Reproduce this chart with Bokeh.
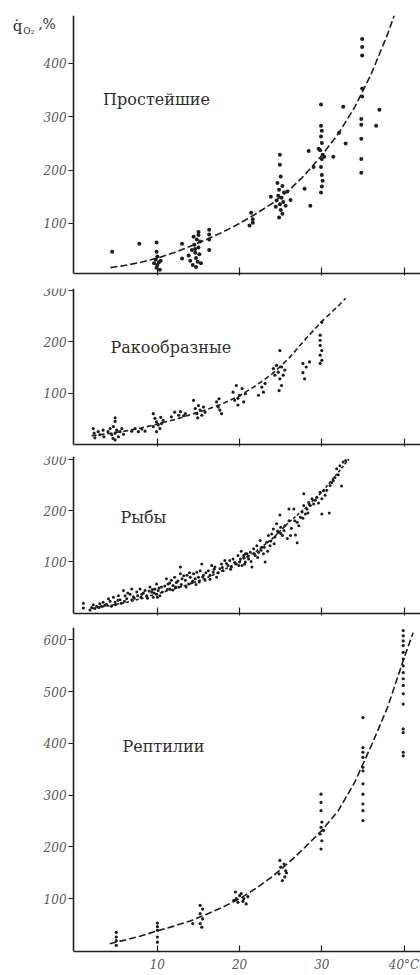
from bokeh.plotting import figure
from bokeh.layouts import column
from bokeh.models import FixedTicker, Label
from bokeh.embed import file_html
from bokeh.resources import INLINE

# ---------------- data ----------------
# Простейшие
proto_t = [4.5, 7.8, 9.9, 9.9, 10.0, 9.8, 10.2, 10.0, 9.9, 10.3, 9.6, 10.4,
           13.0, 13.0,
           13.8, 14.0, 14.2, 14.3, 14.5, 14.6, 14.7, 14.8, 14.9, 15.0, 15.0, 15.1, 15.2, 14.4, 14.7, 15.3, 15.0, 14.6,
           16.3, 16.3, 16.3, 16.3,
           21.4, 21.6, 21.6, 21.2,
           24.9, 24.9, 25.0, 24.6, 25.2, 24.8, 25.4, 24.7, 25.1, 24.5, 25.3, 24.9, 25.6, 24.4, 25.0, 25.2, 24.8, 26.2, 23.8, 25.8,
           27.9, 28.6, 28.4, 29.0,
           29.9, 29.9, 30.0, 29.9, 30.0, 29.8, 30.1, 30.0, 29.9, 30.0, 30.1, 30.0, 29.9, 30.3, 29.6,
           31.4, 32.1, 32.6, 32.9,
           34.9, 34.9, 34.9, 34.9, 34.9, 34.8, 34.8, 34.8, 34.8, 34.8,
           36.6, 37.0]
proto_v = [47, 62, 64, 47, 38, 32, 27, 22, 17, 13, 25, 30,
           62, 34,
           40, 30, 50, 22, 60, 45, 35, 70, 28, 84, 55, 42, 66, 75, 18, 25, 78, 52,
           88, 79, 70, 50,
           120, 108, 101, 96,
           229, 210, 188, 176, 170, 163, 158, 152, 148, 143, 140, 136, 133, 131, 125, 118, 111, 144, 150, 160,
           165, 133, 236, 206,
           323, 283, 274, 263, 251, 237, 229, 221, 206, 191, 180, 169, 158, 225, 240,
           225, 270, 319, 250,
           446, 431, 415, 353, 338, 296, 285, 259, 221, 195,
           283, 313]
proto_curve_t = [4.3, 6, 8, 10, 12, 14, 16, 18, 20, 22, 24, 26, 28, 30, 32, 34, 36, 38, 38.8]
proto_curve_v = [17, 21, 27, 35, 45, 57, 70, 84, 100, 118, 138, 162, 192, 228, 268, 318, 380, 455, 490]

# Ракообразные
crust_t = [2.2, 2.3, 2.4, 2.8, 3.0, 3.4, 3.5,
           4.0, 4.25, 4.45, 4.65, 4.86, 5.06, 5.26, 5.46, 5.67, 5.87, 4.86, 4.6, 4.86, 4.86,
           6.88, 7.29, 7.69, 8.1, 8.5,
           9.5, 9.7, 9.9, 10.1, 10.3, 10.5, 10.7, 9.5, 9.9, 10.4,
           11.7, 12.1, 12.6, 12.8, 13.2, 13.4,
           14.4, 14.6, 14.8, 15.0, 15.2, 15.4, 15.6, 15.8, 14.9,
           17.2, 17.4, 17.6, 17.8, 17.5,
           19.2, 19.6, 19.8, 20.0, 20.3, 20.5, 20.7, 19.4, 19.8,
           22.3, 22.7, 23.1, 22.9,
           24.9, 24.1, 24.5, 24.7, 25.1, 25.3, 24.9, 25.1, 24.8, 25.5, 24.3,
           27.7, 28.1, 28.5, 27.7, 27.9,
           30.0, 29.8, 29.8, 29.8, 30.0, 29.8, 30.0, 29.8]
crust_v = [31, 22, 13, 25, 19, 28, 15,
           25, 31, 19, 35, 22, 28, 15, 25, 31, 20, 9, 12, 52, 45,
           26, 31, 25, 30, 26,
           60, 51, 44, 38, 31, 41, 47, 35, 25, 53,
           54, 63, 57, 64, 56, 60,
           86, 70, 60, 76, 67, 57, 73, 63, 52,
           83, 73, 67, 60, 89,
           102, 115, 90, 96, 109, 83, 99, 86, 77,
           96, 112, 119, 102,
           183, 148, 154, 141, 151, 135, 128, 115, 105, 145, 135,
           158, 151, 161, 140, 128,
           238, 213, 203, 193, 183, 174, 164, 158]
crust_curve_t = [2, 4, 6, 8, 10, 12, 14, 16, 18, 20, 22, 24, 26, 28, 30, 32, 32.9]
crust_curve_v = [17, 21, 26, 32, 40, 48, 58, 68, 80, 95, 115, 138, 168, 205, 240, 270, 285]

# Рыбы
fish_t = [1.0, 1.0, 2.0, 2.2, 2.6, 3.0, 3.4, 3.6,
          4.05, 4.25, 4.65, 4.86, 5.26, 5.46,
          5.87, 6.07, 6.27, 6.68, 6.88, 7.08,
          7.49, 7.89, 8.1, 8.5, 8.7,
          9.1, 9.3, 9.5, 9.7, 9.9, 10.1, 10.3, 10.5, 9.9,
          11.1, 11.3, 11.5, 11.7, 11.9, 12.1, 12.3, 12.6, 12.8, 12.8, 13.0,
          13.4, 13.6, 13.8, 14.0, 14.2, 14.4, 14.6, 14.8, 15.0, 15.2, 15.4, 15.6, 15.8,
          16.2, 16.4, 16.6, 16.8, 17.0, 17.2, 17.6, 17.8, 18.0, 18.2,
          18.6, 18.8, 19.0, 19.2, 19.6, 19.8, 20.0, 20.5, 20.7,
          20.1, 20.3, 20.5, 20.7, 20.9, 21.1, 21.3, 21.5, 21.7, 21.9, 22.1, 22.3, 22.5, 22.7, 22.9, 23.1, 23.3, 23.5, 23.7,
          23.9, 24.1, 24.3, 24.5, 24.7, 25.0, 25.2, 25.4, 24.9, 26.0, 26.2, 26.8, 27.0, 26.6, 26.0,
          27.0, 27.4, 27.6, 27.8, 27.8, 28.0, 28.2, 28.4, 28.8, 29.0, 29.4, 29.8, 30.0, 30.2, 30.4, 30.0, 30.9,
          31.0, 31.4, 31.8, 32.2, 32.6, 32.4,
          1.8, 2.4, 2.9, 3.2, 3.8, 4.4, 4.9, 5.2, 5.6, 6.0, 6.4, 6.9, 7.2, 7.6, 8.0, 8.3, 8.8,
          9.0, 9.4, 9.6, 10.0, 10.2, 10.6, 10.9, 11.2, 11.5, 11.9, 12.2, 12.5, 12.9, 13.2, 13.5,
          13.9, 14.3, 14.7, 15.1, 15.5, 15.9, 16.4, 16.9, 17.4, 17.9, 18.4, 18.9, 19.4, 19.9,
          20.2, 20.6, 21.0, 21.4, 21.8, 22.2, 22.6, 23.0, 23.4, 23.8, 24.2, 24.6, 25.0, 25.5,
          25.8, 26.3, 26.7, 27.2, 27.7, 28.3, 28.6, 29.2, 29.6, 30.6, 31.2, 31.6, 32.0, 32.9]
fish_v = [18, 9, 10, 15, 12, 17, 20, 14,
          27, 22, 30, 20, 33, 25,
          43, 33, 27, 36, 46, 31,
          40, 46, 36, 43, 33,
          50, 40, 30, 46, 36, 43, 33, 50, 56,
          66, 56, 46, 63, 53, 69, 59, 50, 89, 76, 66,
          63, 73, 56, 69, 59, 76, 66, 79, 69, 82, 95, 73, 63,
          82, 73, 92, 79, 89, 69, 86, 95, 82, 102,
          92, 102, 89, 105, 95, 112, 99, 108, 115,
          105, 92, 112, 99, 115, 105, 118, 89, 125, 112, 131, 118, 141, 128, 115, 99, 138, 151, 131,
          154, 164, 148, 174, 157, 167, 151, 161, 191, 203, 151, 152, 137, 203, 180,
          177, 187, 197, 210, 233, 193, 203, 216, 223, 213, 226, 236, 223, 239, 230, 193, 195,
          249, 259, 282, 288, 295, 248,
          5, 8, 10, 12, 16, 12, 15, 24, 18, 22, 38, 25, 28, 33, 30, 38, 28,
          42, 45, 38, 30, 48, 40, 52, 45, 58, 44, 50, 62, 55, 72, 50,
          78, 62, 55, 60, 70, 78, 65, 85, 78, 88, 96, 85, 98, 92,
          120, 95, 110, 100, 115, 108, 122, 128, 120, 140, 135, 160, 155, 170,
          145, 165, 180, 170, 185, 195, 210, 220, 215, 240, 255, 265, 270, 298]
fish_curve_t = [2, 4, 6, 8, 10, 12, 14, 16, 18, 20, 22, 24, 26, 28, 30, 32, 33.3]
fish_curve_v = [8, 13, 19, 27, 37, 46, 56, 68, 83, 100, 120, 145, 177, 205, 236, 275, 301]

# Рептилии
rept_t = [5.0, 5.0, 5.0, 5.0,
          10.0, 10.0, 10.0, 10.0, 10.0,
          15.2, 15.5, 15.2, 15.5, 15.2, 15.4, 14.3,
          19.5, 20.0, 20.5, 19.8, 20.8, 20.2, 19.6, 21.0, 20.4, 19.3,
          24.9, 25.4, 25.0, 25.6, 24.8, 25.5, 25.2, 25.7,
          29.9, 29.9, 29.9, 30.0, 29.9, 30.2, 29.8, 30.0, 29.9,
          35.0, 35.0, 35.0, 35.0, 35.0, 35.0, 35.0, 35.0, 35.0, 35.0, 35.0,
          39.9, 39.9, 39.9, 39.9, 39.9, 39.9, 39.9, 39.9, 39.9, 39.9, 39.9, 39.9, 39.9, 39.9, 39.9, 39.9]
rept_v = [35, 26, 19, 10,
          53, 46, 39, 26, 16,
          87, 80, 71, 61, 52, 45, 52,
          113, 106, 100, 93, 90, 110, 100, 104, 95, 97,
          174, 167, 161, 154, 148, 142, 135, 150,
          302, 286, 270, 248, 238, 232, 225, 212, 196,
          450, 392, 383, 373, 354, 347, 322, 302, 283, 270, 251,
          618, 608, 598, 589, 576, 563, 550, 537, 525, 512, 496, 476, 428, 421, 383, 376]
rept_curve_t = [4.2, 6, 8, 10, 12, 14, 16, 18, 20, 22, 24, 26, 28, 30, 32, 34, 36, 38, 40, 41.1]
rept_curve_v = [13, 20, 28, 38, 47, 57, 70, 84, 100, 120, 143, 170, 200, 232, 270, 325, 395, 470, 565, 614]

x_ticks = [10, 20, 30, 40]

SERIF = "DejaVu Serif"
INK = "#1e1e1e"
TICK_GREY = "#5a5a5a"
X0, X1 = -0.2, 42.0          # temperature span of the drawn x axis
X_LEFT = -9.08               # left canvas edge, leaves room for the y labels


def panel(height, top, bottom, y_range, y_ticks, show_x_labels=False):
    p = figure(width=420, height=height, x_range=(X_LEFT, X1), y_range=y_range,
               output_backend="svg", toolbar_location=None,
               min_border_left=0, min_border_right=0,
               min_border_top=top, min_border_bottom=bottom)
    p.outline_line_color = None
    p.grid.grid_line_color = None
    p.background_fill_color = "white"
    p.border_fill_color = "white"

    for ax in (p.xaxis[0], p.yaxis[0]):
        ax.axis_line_color = INK
        ax.axis_line_width = 1.6
        ax.major_tick_line_color = INK
        ax.major_tick_line_width = 1.2
        ax.minor_tick_line_color = None
        ax.major_label_text_font = SERIF
        ax.major_label_text_font_style = "italic"
        ax.major_label_text_color = TICK_GREY
        ax.major_label_text_font_size = "12px"

    # y axis sits at T = 0, inside the canvas
    p.yaxis.fixed_location = X0
    p.yaxis.ticker = FixedTicker(ticks=y_ticks)
    p.yaxis.major_tick_out = 5
    p.yaxis.major_tick_in = 0
    p.yaxis.major_label_standoff = 2

    p.xaxis.bounds = (X0, X1)
    p.xaxis.ticker = FixedTicker(ticks=x_ticks)
    p.xaxis.major_tick_in = 6
    if show_x_labels:
        p.xaxis.major_tick_out = 0
        p.xaxis.major_label_standoff = 6
        p.xaxis.major_label_overrides = {40: "40°C"}
    else:
        # tick marks only on the upper panels
        p.xaxis.major_tick_out = 2
        p.xaxis.major_label_overrides = {t: "" for t in x_ticks}
        p.xaxis.major_label_standoff = 0
    return p


def caption(p, text, x, y):
    p.add_layout(Label(x=x, y=y, text=text, text_font=SERIF, text_font_size="16px",
                       text_color="#2e2e2e", text_baseline="alphabetic"))


def draw(p, t, v, ct, cv, size, dash):
    p.line(ct, cv, line_color=INK, line_width=1.6, line_dash=dash)
    p.scatter(t, v, size=size, marker="circle", fill_color=INK, line_color=None)


p1 = panel(280, 15, 7, (6, 490), [100, 200, 300, 400])
draw(p1, proto_t, proto_v, proto_curve_t, proto_curve_v, 4.0, "7 3")
caption(p1, "Простейшие", 3.4, 333)

# axis quantity beside the top of the y axis
for txt, tx, vy, fs in (("q̇", -7.6, 470, "15px"), ("O₂", -6.3, 461, "9px"), (",%", -4.5, 474, "14px")):
    p1.add_layout(Label(x=tx, y=vy, text=txt, text_font=SERIF, text_font_size=fs,
                        text_color="#2e2e2e", text_baseline="alphabetic"))

p2 = panel(170, 8, 6, (0, 304), [100, 200, 300])
draw(p2, crust_t, crust_v, crust_curve_t, crust_curve_v, 3.2, "5 3")
caption(p2, "Ракообразные", 4.3, 190)

p3 = panel(170, 6, 7, (-2, 306), [100, 200, 300])
draw(p3, fish_t, fish_v, fish_curve_t, fish_curve_v, 3.0, "3 2")
caption(p3, "Рыбы", 5.5, 187)

p4 = panel(355, 7, 24, (-2, 624), [100, 200, 300, 400, 500, 600], show_x_labels=True)
draw(p4, rept_t, rept_v, rept_curve_t, rept_curve_v, 3.2, "7 3")
caption(p4, "Рептилии", 5.75, 394)

layout = column(p1, p2, p3, p4, spacing=0)
open("out.html", "w").write(file_html(layout, INLINE))
